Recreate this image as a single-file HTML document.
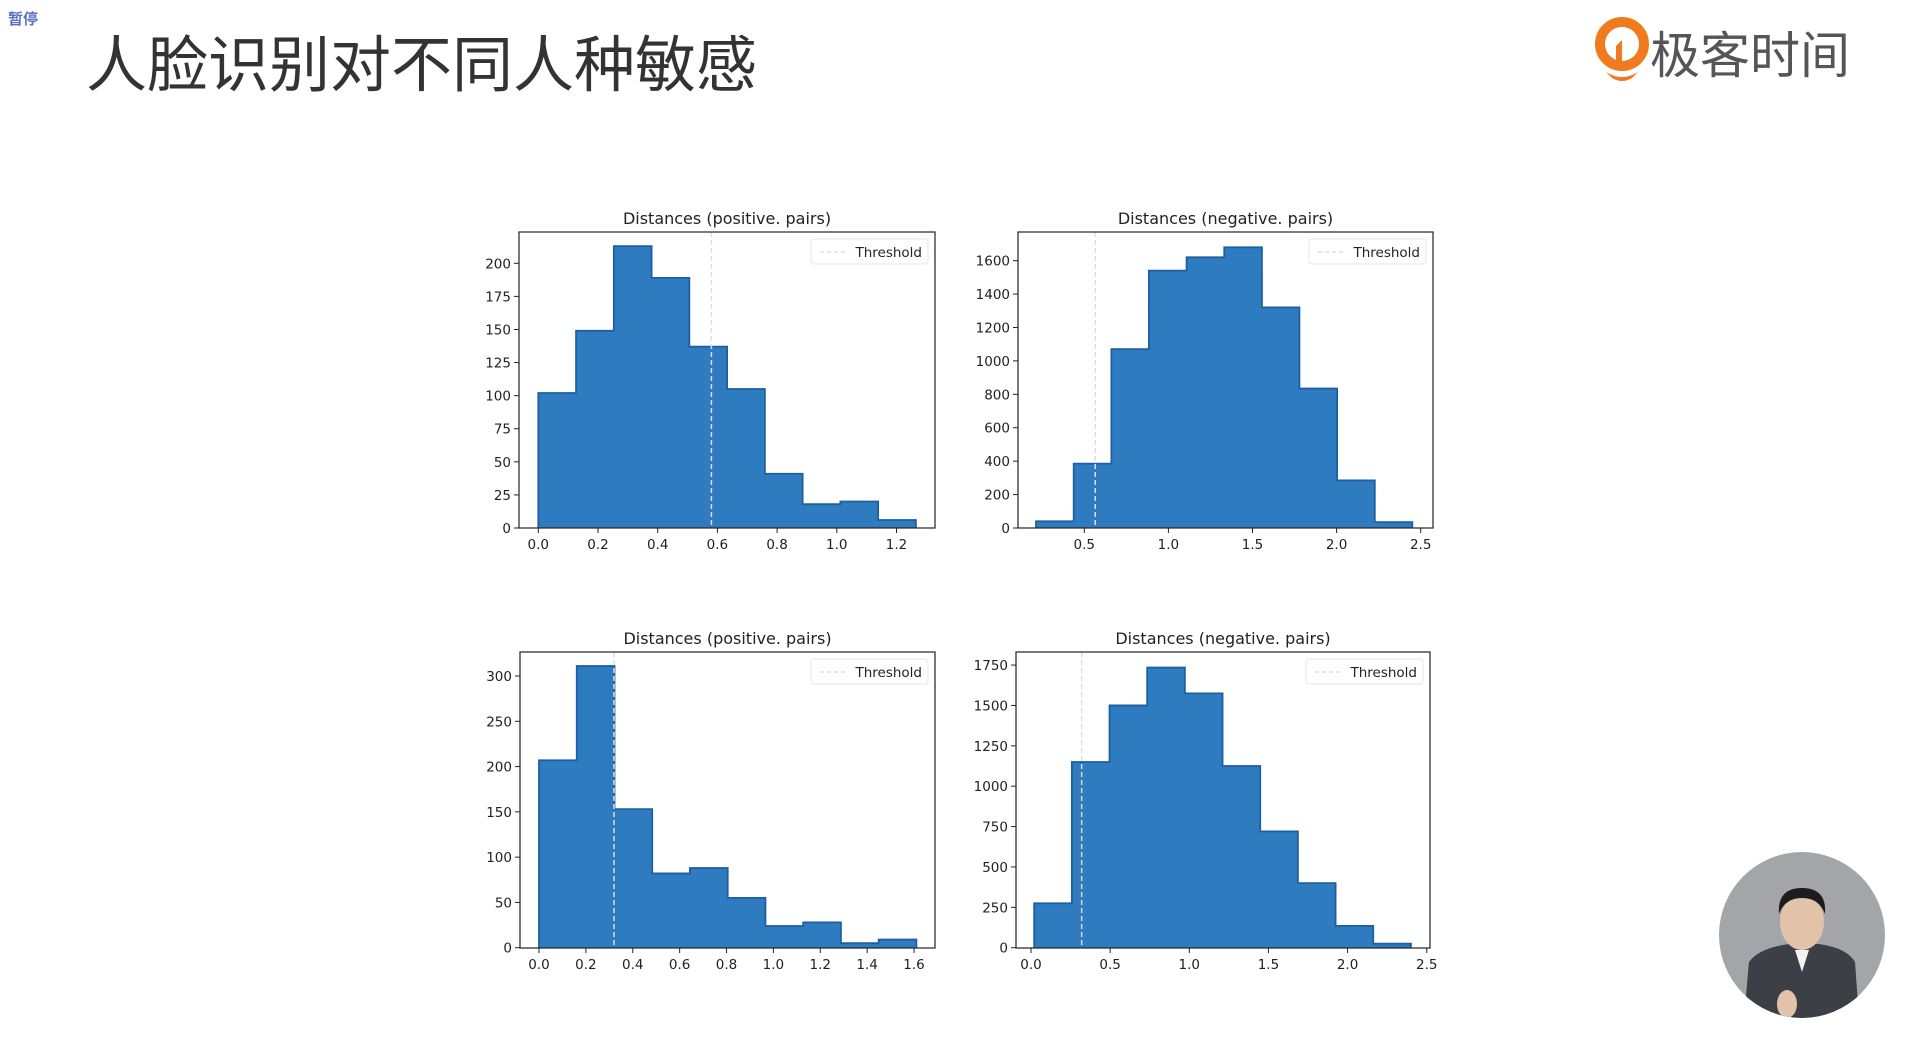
<!DOCTYPE html>
<html><head><meta charset="utf-8">
<style>
html,body{margin:0;padding:0;background:#fff;width:1920px;height:1045px;overflow:hidden;font-family:"Liberation Sans","Noto Sans CJK SC",sans-serif;}
#root{position:relative;width:1920px;height:1045px;}
.title{position:absolute;left:86px;top:23px;font-size:61px;color:#333;font-family:"Noto Sans CJK SC",sans-serif;letter-spacing:0px;line-height:74px;}
.pause{position:absolute;left:8px;top:8px;font-size:15px;color:#5a6fc0;font-weight:bold;font-family:"Noto Sans CJK SC",sans-serif;}
.brand{position:absolute;left:1650px;top:19px;font-size:50px;color:#555;font-family:"Noto Sans CJK SC",sans-serif;line-height:66px;}
</style></head>
<body><div id="root">
<div class="pause">暂停</div>
<div class="title">人脸识别对不同人种敏感</div>
<svg style="position:absolute;left:1594px;top:16px" width="56" height="68">
<circle cx="28" cy="28" r="22" fill="none" stroke="#f07a1e" stroke-width="10"/>
<path d="M22 30 L28 24 L28 52 L22 48 Z" fill="#f07a1e"/>
<path d="M12 56 Q28 66 44 56 L38 62 Q28 68 18 62 Z" fill="#f07a1e"/>
</svg>
<div class="brand">极客时间</div>
<svg id="charts" style="position:absolute;left:0;top:0" width="1920" height="1045"></svg>
<svg style="position:absolute;left:1719px;top:852px" width="166" height="166">
<defs><clipPath id="cc"><circle cx="83" cy="83" r="83"/></clipPath></defs>
<g clip-path="url(#cc)">
<rect width="166" height="166" fill="#a3a5a9"/>
<path d="M25 166 L30 110 Q40 96 70 92 L100 92 Q128 96 136 110 L140 166 Z" fill="#3c3f45"/>
<ellipse cx="83" cy="70" rx="22" ry="28" fill="#e2c2a8"/>
<path d="M60 62 Q58 36 83 36 Q108 36 106 62 Q100 46 83 46 Q66 46 60 62 Z" fill="#1c1c1e"/>
<path d="M76 98 L83 120 L90 98 Z" fill="#f2f2f2"/>
<ellipse cx="68" cy="152" rx="10" ry="14" fill="#e2c2a8"/>
</g></svg>
</div>
<script>
const NS="http://www.w3.org/2000/svg";
// Chart 1: positive pairs (top)
const c1Edges=[0,0.1265,0.253,0.3795,0.506,0.6325,0.759,0.8855,1.012,1.1385,1.265];
const c1Counts=[102,149,213,189,137,105,41,18,20,6];
const c1XTicks=[0,0.2,0.4,0.6,0.8,1.0,1.2];
const c1YTicks=[0,25,50,75,100,125,150,175,200];
const c1Threshold=0.58;
// Chart 2: negative pairs (top)
const c2Edges=[0.213,0.437,0.661,0.884,1.108,1.332,1.556,1.779,2.003,2.227,2.45];
const c2Counts=[40,385,1070,1540,1620,1680,1320,835,285,35];
const c2XTicks=[0.5,1.0,1.5,2.0,2.5];
const c2YTicks=[0,200,400,600,800,1000,1200,1400,1600];
const c2Threshold=0.565;
// Chart 3: positive pairs (bottom)
const c3Edges=[0,0.161,0.322,0.483,0.644,0.805,0.966,1.127,1.288,1.449,1.61];
const c3Counts=[207,311,153,82,88,55,24,28,5,9];
const c3XTicks=[0,0.2,0.4,0.6,0.8,1.0,1.2,1.4,1.6];
const c3YTicks=[0,50,100,150,200,250,300];
const c3Threshold=0.32;
// Chart 4: negative pairs (bottom)
const c4Edges=[0.02,0.258,0.496,0.734,0.972,1.21,1.448,1.686,1.924,2.162,2.4];
const c4Counts=[275,1150,1500,1735,1575,1125,720,400,135,25];
const c4XTicks=[0,0.5,1.0,1.5,2.0,2.5];
const c4YTicks=[0,250,500,750,1000,1250,1500,1750];
const c4Threshold=0.32;

const svg=document.getElementById('charts');
function mk(tag,attrs,parent){const e=document.createElementNS(NS,tag);for(const k in attrs)e.setAttribute(k,attrs[k]);(parent||svg).appendChild(e);return e;}

function draw(name,title,box,xmap,ymap,edges,counts,xt,yt,thr,xdec){
  const g=mk('g',{});
  
  
  const xs=v=>xmap[0]+(v-xmap[1])*xmap[2];
  const ys=v=>ymap[0]-v*ymap[1];
  const t=mk('text',{x:(box[0]+box[2])/2,y:box[1]-8,'text-anchor':'middle','font-size':16,fill:'#222','font-family':'DejaVu Sans, sans-serif'},g);
  t.textContent=title;
  
  
  let d='M'+xs(edges[0])+' '+ymap[0];
  for(let i=0;i<counts.length;i++){
    const x0=xs(edges[i]),x1=xs(edges[i+1]),y=ys(counts[i]);
    const r=mk('rect',{x:x0,y:y,width:x1-x0+0.6,height:ymap[0]-y,fill:'#2f7bbf'},g);
    
    
    d+=' L'+x0+' '+y+' L'+x1+' '+y;
  }
  d+=' L'+xs(edges[edges.length-1])+' '+ymap[0];
  mk('path',{d:d,fill:'none',stroke:'#1d5fa3','stroke-width':1.8},g);
  const tl=mk('line',{x1:xs(thr),x2:xs(thr),y1:box[1],y2:box[3],stroke:'#dddddd','stroke-width':1.5,'stroke-dasharray':'5,3'},g);
  
  
  const ax=mk('rect',{x:box[0],y:box[1],width:box[2]-box[0],height:box[3]-box[1],fill:'none',stroke:'#222','stroke-width':1.2},g);
  
  
  xt.forEach(v=>{const x=xs(v);mk('line',{x1:x,x2:x,y1:box[3],y2:box[3]+5,stroke:'#222'},g);
    const l=mk('text',{x:x,y:box[3]+21,'text-anchor':'middle','font-size':13.5,fill:'#222','font-family':'DejaVu Sans, sans-serif'},g);l.textContent=v.toFixed(xdec);
    
    });
  yt.forEach(v=>{const y=ys(v);mk('line',{x1:box[0]-5,x2:box[0],y1:y,y2:y,stroke:'#222'},g);
    const l=mk('text',{x:box[0]-8,y:y+5,'text-anchor':'end','font-size':13.5,fill:'#222','font-family':'DejaVu Sans, sans-serif'},g);l.textContent=v;
    
    });
  const lg=mk('g',{},g);
  
  
  mk('rect',{x:box[2]-124,y:box[1]+7,width:117,height:25,rx:3,fill:'#fff',stroke:'#e6e6e6'},lg);
  mk('line',{x1:box[2]-115,x2:box[2]-88,y1:box[1]+20,y2:box[1]+20,stroke:'#ddd','stroke-width':1.5,'stroke-dasharray':'4,3'},lg);
  const lt=mk('text',{x:box[2]-13,y:box[1]+25,'text-anchor':'end','font-size':13.5,fill:'#222','font-family':'DejaVu Sans, sans-serif'},lg);lt.textContent='Threshold';
}
draw('hist-positive-top','Distances (positive. pairs)',[519,232,935,528],[538.3,0,298.5],[528,1.3235],c1Edges,c1Counts,c1XTicks,c1YTicks,c1Threshold,1);
draw('hist-negative-top','Distances (negative. pairs)',[1018,232,1433,528],[1084.3,0.5,168.2],[528,0.1671],c2Edges,c2Counts,c2XTicks,c2YTicks,c2Threshold,1);
draw('hist-positive-bottom','Distances (positive. pairs)',[520,652,935,948],[539,0,234.4],[947.7,0.9056],c3Edges,c3Counts,c3XTicks,c3YTicks,c3Threshold,1);
draw('hist-negative-bottom','Distances (negative. pairs)',[1016,652,1430,948],[1031,0,158.3],[947.7,0.1615],c4Edges,c4Counts,c4XTicks,c4YTicks,c4Threshold,1);
</script>
</body></html>
